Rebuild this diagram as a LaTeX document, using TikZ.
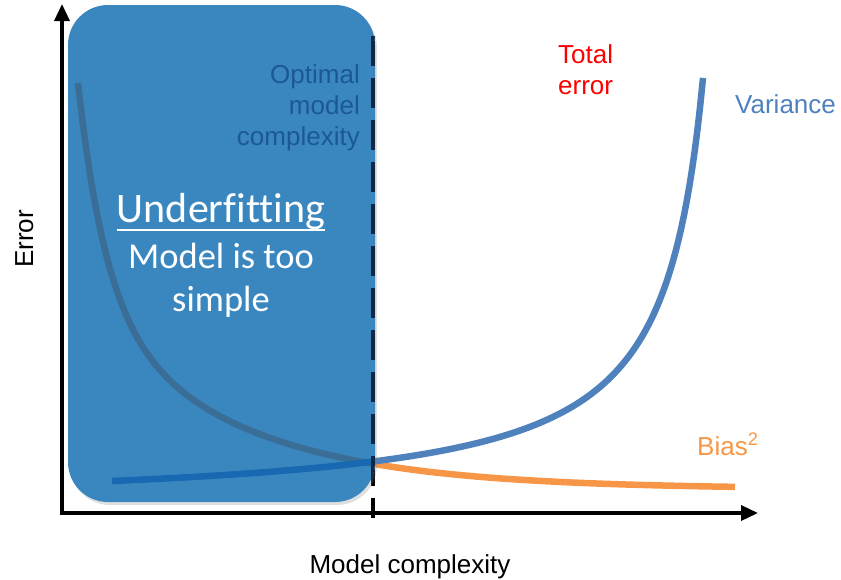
\documentclass[tikz,border=0pt]{standalone}
\usepackage{fontspec}
\setmainfont{Liberation Sans}
\newfontfamily\calibrifont[Ligatures=NoCommon]{Carlito}
\usetikzlibrary{arrows.meta,shadows}

\definecolor{boxblue}{RGB}{58,135,192}
\definecolor{varblue}{RGB}{79,129,189}
\definecolor{varinbox}{RGB}{24,104,178}
\definecolor{biasorange}{RGB}{247,150,70}
\definecolor{biasinbox}{RGB}{58,110,150}
\definecolor{optblue}{RGB}{28,88,148}
\definecolor{dashinbox}{RGB}{16,40,70}

% the two error curves, drawn with a style given as argument
\newcommand\biascurve[1]{\draw[#1] plot[domain=78:735, samples=220, variable=\t]
  ({\t}, {489 - 218*exp(-0.036*(\t-78)) - 188*exp(-0.0068*(\t-78))});}
\newcommand\variancecurve[1]{\draw[#1] plot[domain=112:703, samples=220, variable=\t]
  ({\t}, {508.7 - 174.91/(7.436-\t/100)});}

\begin{document}
\begin{tikzpicture}[x=1pt,y=-1pt,
  axis/.style={line width=3.5pt, -{Triangle[length=17pt,width=15pt]}},
  curve/.style={line width=6.5pt},
  optline/.style={line width=3.5pt, dash pattern=on 30pt off 12pt},
  label/.style={inner sep=0pt, font=\fontsize{26}{31}\selectfont},
  bigtext/.style={inner sep=0pt, text=white}]
\useasboundingbox (0,0) rectangle (841,579);

% axes
\coordinate (O) at (62,513);
\coordinate (ytop) at (62,4);
\coordinate (xend) at (758,513);
\coordinate (xstart) at (60,513);
\draw[axis] ([yshift=-1.5pt]O) -- (ytop);
\draw[axis] (xstart) -- (xend);

% curves
\biascurve{curve, biasorange}
\variancecurve{curve, varblue}

% optimal complexity marker
\coordinate (opttop) at (373,36);
\coordinate (optbot) at (373,518);
\draw[optline, black] (opttop) -- (optbot);

% underfitting region
\fill[boxblue, rounded corners=40pt, drop shadow={opacity=0.25, shadow xshift=2pt, shadow yshift=-3pt}] (68,5) rectangle (375,502);
\begin{scope}
  \clip[rounded corners=40pt] (68,5) rectangle (375,502);
  \biascurve{curve, biasinbox}
  \variancecurve{curve, varinbox}
  \draw[optline, dashinbox] (opttop) -- (optbot);
\end{scope}

% labels
\node[label, text=optblue, align=right, anchor=north east] (optimal) at (360,64) {Optimal\\model\\complexity};
\node[label, text=red, align=left, anchor=north west] (total) at (558,44) {Total\\error};
\node[label, text=varblue, anchor=base west] (variance) at (735,113) {Variance};
\node[label, text=biasorange, anchor=base west] (bias) at (697,455) {Bias\textsuperscript{2}};
\node[label, anchor=base] (xlabel) at (410,573) {Model complexity};
\node[label, rotate=90, anchor=base] (ylabel) at (33,239) {Error};

\node[bigtext, font=\calibrifont\fontsize{42}{44}\selectfont, anchor=base] (uf) at (221,222) {Underfitting};
\draw[white, line width=2pt] ([yshift=-8pt]uf.base west) -- ([yshift=-8pt]uf.base east);
\node[bigtext, font=\calibrifont\fontsize{36.5}{43}\selectfont, align=center, anchor=north] (simple) at (221,243) {Model is too\\simple};
\end{tikzpicture}
\end{document}
